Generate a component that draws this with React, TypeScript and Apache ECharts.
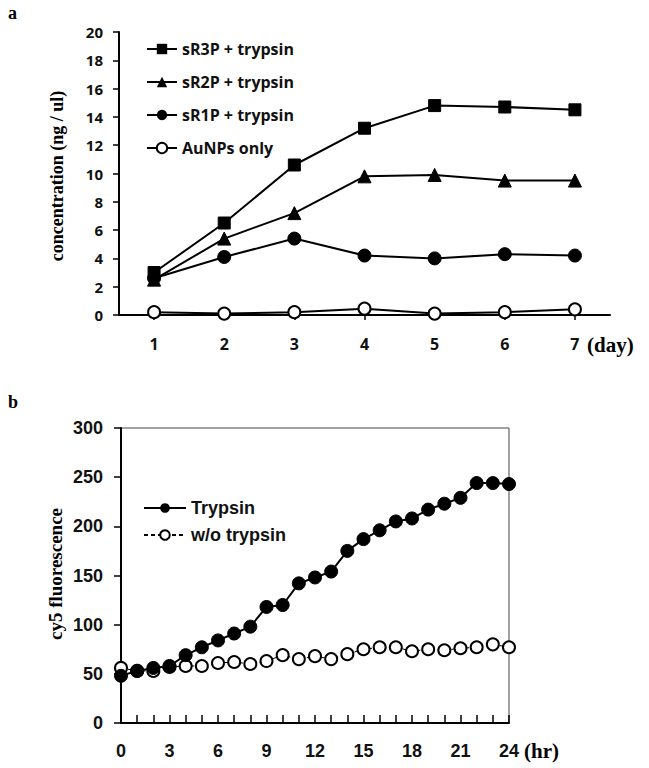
import React, { useEffect, useRef } from "react";
import * as echarts from "echarts";

const days = [1, 2, 3, 4, 5, 6, 7];
const sR3P = [3.0, 6.5, 10.6, 13.2, 14.8, 14.7, 14.5];
const sR2P = [2.5, 5.4, 7.2, 9.8, 9.9, 9.5, 9.5];
const sR1P = [2.6, 4.1, 5.4, 4.2, 4.0, 4.3, 4.2];
const auNPs = [0.2, 0.1, 0.2, 0.45, 0.1, 0.2, 0.4];

const hours = [0, 1, 2, 3, 4, 5, 6, 7, 8, 9, 10, 11, 12, 13, 14, 15, 16, 17, 18, 19, 20, 21, 22, 23, 24];
const trypsin = [48, 53, 56, 58, 69, 77, 84, 91, 98, 118, 120, 142, 148, 154, 175, 187, 196, 205, 208, 217, 223, 229, 244, 244, 243];
const woTrypsin = [56, 53, 53, 57, 58, 58, 61, 62, 60, 63, 69, 65, 68, 65, 70, 75, 77, 77, 73, 75, 74, 76, 77, 80, 77];

const topNames = ["sR3P + trypsin", "sR2P + trypsin", "sR1P + trypsin", "AuNPs only"];
const bottomNames = ["Trypsin", "w/o trypsin"];

const pairs = (xs: number[], ys: number[]) => xs.map((x, i) => [x, ys[i]]);

export default function App() {
  const ref = useRef<HTMLDivElement>(null);
  useEffect(() => {
    if (!ref.current) return;
    const chart = echarts.init(ref.current, null, { renderer: "svg" });
    const labelTop = { fontFamily: "Open Sans", fontWeight: "bold", fontSize: 15, color: "#111" };
    const labelBot = { fontFamily: "Liberation Sans", fontWeight: "bold", fontSize: 18, color: "#111" };
    const axisLine = { show: true, lineStyle: { color: "#000", width: 2 } };
    const lineSeriesTop = (name: string, data: number[], symbol: string, size: number) => ({
      type: "line",
      name,
      xAxisIndex: 0,
      yAxisIndex: 0,
      data: pairs(days, data),
      symbol,
      symbolSize: size,
      lineStyle: { color: "#000", width: 2 },
      itemStyle: symbol === "emptyCircle"
        ? { color: "#000", borderColor: "#000", borderWidth: 2 }
        : { color: "#000", borderColor: "#000" },
    });
    chart.setOption({
      animation: false,
      backgroundColor: "#fff",
      grid: [
        { left: 119, top: 32, width: 491, height: 283 },
        { left: 121, top: 428, width: 388, height: 295, show: true, borderColor: "#444", borderWidth: 1 },
      ],
      xAxis: [
        {
          gridIndex: 0,
          type: "value",
          min: 0.5,
          max: 7.5,
          splitLine: { show: false },
          axisLine,
          axisTick: { show: true, customValues: days, length: 5, lineStyle: { color: "#000", width: 1.5 } },
          axisLabel: { ...labelTop, fontSize: 16, customValues: days, margin: 21 },
        },
        {
          gridIndex: 1,
          type: "value",
          min: 0,
          max: 24,
          interval: 1,
          splitLine: { show: false },
          axisLine,
          axisTick: { show: true, inside: true, length: 8, lineStyle: { color: "#000", width: 1.5 } },
          axisLabel: {
            ...labelBot,
            margin: 19,
            formatter: (v: number) => (v % 3 === 0 ? String(v) : ""),
          },
        },
      ],
      yAxis: [
        {
          gridIndex: 0,
          type: "value",
          min: 0,
          max: 20,
          interval: 2,
          splitLine: { show: false },
          axisLine,
          axisTick: { show: true, length: 6, lineStyle: { color: "#000", width: 1.5 } },
          axisLabel: { ...labelTop, margin: 16 },
        },
        {
          gridIndex: 1,
          type: "value",
          min: 0,
          max: 300,
          interval: 50,
          splitLine: { show: false },
          axisLine,
          axisTick: { show: true, length: 7, lineStyle: { color: "#000", width: 1.5 } },
          axisLabel: { ...labelBot, margin: 18 },
        },
      ],
      legend: [
        {
          data: topNames,
          orient: "vertical",
          left: 141,
          top: 36,
          itemWidth: 30,
          itemHeight: 13,
          itemGap: 17,
          textStyle: { fontFamily: "Open Sans", fontWeight: "bold", fontSize: 16, color: "#111" },
        },
        {
          data: bottomNames,
          orient: "vertical",
          left: 138,
          top: 494,
          itemWidth: 42,
          itemHeight: 12,
          itemGap: 9,
          textStyle: { fontFamily: "Liberation Sans", fontWeight: "bold", fontSize: 18, color: "#111" },
        },
      ],
      series: [
        lineSeriesTop(topNames[0], sR3P, "rect", 12),
        lineSeriesTop(topNames[1], sR2P, "triangle", 13),
        lineSeriesTop(topNames[2], sR1P, "circle", 13),
        lineSeriesTop(topNames[3], auNPs, "emptyCircle", 12),
        {
          type: "line",
          name: bottomNames[0],
          xAxisIndex: 1,
          yAxisIndex: 1,
          data: pairs(hours, trypsin),
          symbol: "circle",
          symbolSize: 13,
          lineStyle: { color: "#000", width: 2 },
          itemStyle: { color: "#000", borderColor: "#000" },
          z: 3,
        },
        {
          type: "line",
          name: bottomNames[1],
          xAxisIndex: 1,
          yAxisIndex: 1,
          data: pairs(hours, woTrypsin),
          symbol: "emptyCircle",
          symbolSize: 12,
          lineStyle: { color: "#000", width: 1, type: [4, 3] },
          itemStyle: { color: "#000", borderColor: "#000", borderWidth: 1.8 },
          z: 2,
        },
      ],
      graphic: [
        { type: "text", left: 8, top: 4, style: { text: "a", font: "bold 18px 'Liberation Serif'", fill: "#000" } },
        { type: "text", left: 8, top: 393, style: { text: "b", font: "bold 18px 'Liberation Serif'", fill: "#000" } },
        {
          type: "text",
          x: 57,
          y: 176,
          rotation: Math.PI / 2,
          style: {
            text: "concentration (ng / ul)",
            font: "bold 18px 'Liberation Serif'",
            fill: "#000",
            align: "center",
            verticalAlign: "middle",
          },
        },
        {
          type: "text",
          x: 55,
          y: 574,
          rotation: Math.PI / 2,
          style: {
            text: "cy5 fluorescence",
            font: "bold 19px 'Liberation Serif'",
            fill: "#000",
            align: "center",
            verticalAlign: "middle",
          },
        },
        {
          type: "text",
          x: 587,
          y: 345,
          style: { text: "(day)", font: "bold 21px 'Liberation Serif'", fill: "#000", align: "left", verticalAlign: "middle" },
        },
        {
          type: "text",
          x: 524,
          y: 751,
          style: { text: "(hr)", font: "bold 21px 'Liberation Serif'", fill: "#000", align: "left", verticalAlign: "middle" },
        },
      ],
    });
    return () => chart.dispose();
  }, []);
  return <div ref={ref} style={{ position: "fixed", left: 0, top: 0, width: 649, height: 768 }} />;
}
